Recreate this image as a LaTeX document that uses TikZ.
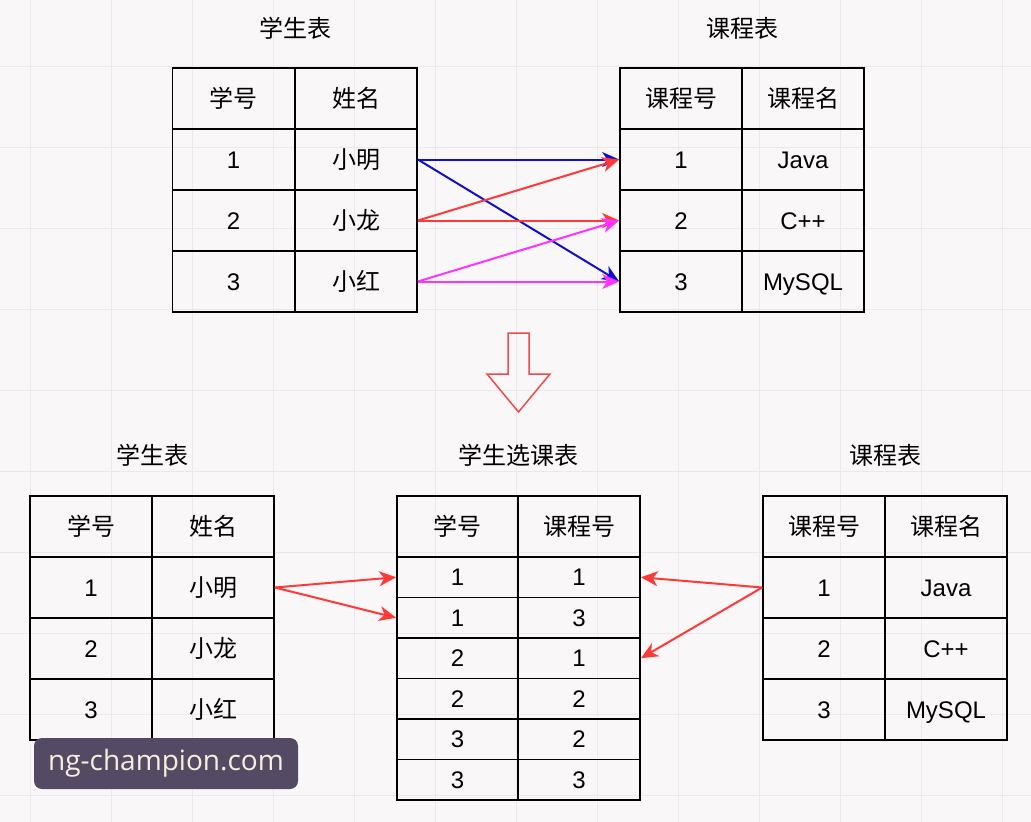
\documentclass[tikz,border=0pt]{standalone}
\usepackage{fontspec}
\setmainfont{Liberation Sans}
\newfontfamily\cjk{Noto Sans CJK SC}
\newfontfamily\wmfont{Open Sans}
\usetikzlibrary{arrows.meta}
\definecolor{bgc}{HTML}{FAF7F9}
\definecolor{gridc}{HTML}{ECE8EC}
\definecolor{bluc}{HTML}{1010CC}
\definecolor{redc}{HTML}{FF3838}
\definecolor{magc}{HTML}{FF33FF}
\definecolor{downc}{HTML}{EE4A4A}
\definecolor{wmbg}{HTML}{554A63}
\definecolor{wmtx}{HTML}{F6EFDD}
\tikzset{
  cell/.style={draw, line width=1.7pt, minimum width=122pt, minimum height=61pt, inner sep=0pt, text height=19pt, text depth=2pt, font=\fontsize{24}{28}\selectfont},
  scell/.style={cell, minimum height=40.5pt},
  ttl/.style={inner sep=0pt, font=\cjk\fontsize{24}{28}\selectfont},
  conn/.style={line width=2pt, -{Stealth[length=17pt, width=15pt, inset=5pt]}},
  bluarrow/.style={conn, draw=bluc, fill=bluc},
  redarrow/.style={conn, draw=redc, fill=redc},
  magarrow/.style={conn, draw=magc, fill=magc},
}
\begin{document}
\begin{tikzpicture}[x=1pt,y=-1pt]
\fill[bgc] (0,0) rectangle (1031,822);
\useasboundingbox (0,0) rectangle (1031,822);
\foreach \x in {30,111,...,1010} \draw[gridc, line width=0.8pt] (\x,0) -- (\x,822);
\foreach \y in {66,147,...,800} \draw[gridc, line width=0.8pt] (0,\y) -- (1031,\y);

% titles
\node[ttl] (t1) at (295,28) {学生表};
\node[ttl] (t2) at (742,28) {课程表};
\node[ttl] (t3) at (152,455) {学生表};
\node[ttl] (t4) at (518,455) {学生选课表};
\node[ttl] (t5) at (885,455) {课程表};

% top-left student table
\foreach \a/\b [count=\i from 0] in {{\cjk 学号}/{\cjk 姓名},1/{\cjk 小明},2/{\cjk 小龙},3/{\cjk 小红}} {
  \node[cell] (sa\i) at (233.5,98.5+61*\i) {\a};
  \node[cell] (sb\i) at (356,98.5+61*\i) {\b};
}
% top-right course table
\foreach \a/\b [count=\i from 0] in {{\cjk 课程号}/{\cjk 课程名},1/Java,2/C++,3/MySQL} {
  \node[cell] (ca\i) at (681,98.5+61*\i) {\a};
  \node[cell] (cb\i) at (803,98.5+61*\i) {\b};
}
% bottom-left student table
\foreach \a/\b [count=\i from 0] in {{\cjk 学号}/{\cjk 姓名},1/{\cjk 小明},2/{\cjk 小龙},3/{\cjk 小红}} {
  \node[cell] (la\i) at (91,526.5+61*\i) {\a};
  \node[cell] (lb\i) at (213,526.5+61*\i) {\b};
}
% bottom-right course table
\foreach \a/\b [count=\i from 0] in {{\cjk 课程号}/{\cjk 课程名},1/Java,2/C++,3/MySQL} {
  \node[cell] (ra\i) at (824,526.5+61*\i) {\a};
  \node[cell] (rb\i) at (946,526.5+61*\i) {\b};
}
% middle selection table
\node[cell, minimum width=121pt] (ma0) at (457.5,526.5) {\cjk 学号};
\node[cell] (mb0) at (579,526.5) {\cjk 课程号};
\foreach \a/\b [count=\i from 1] in {1/1,1/3,2/1,2/2,3/2,3/3} {
  \node[scell, minimum width=121pt] (ma\i) at (457.5,536.75+40.5*\i) {\a};
  \node[scell] (mb\i) at (579,536.75+40.5*\i) {\b};
}

% top connectors
\draw[bluarrow] (sb1.east) -- (ca1.west);
\draw[bluarrow] (sb1.east) -- (ca3.west);
\draw[redarrow] (sb2.east) -- (ca1.west);
\draw[redarrow] (sb2.east) -- (ca2.west);
\draw[magarrow] (sb3.east) -- (ca2.west);
\draw[magarrow] (sb3.east) -- (ca3.west);

% bottom connectors
\draw[redarrow] (lb1.east) -- (ma1.west);
\draw[redarrow] (lb1.east) -- (ma2.west);
\draw[redarrow] (ra1.west) -- (mb1.east);
\draw[redarrow] (ra1.west) -- (mb3.east);

% down arrow
\draw[downc, line width=1.5pt, line join=miter] (508,333) -- (529,333) -- (529,374) -- (550,374) -- (518.5,412) -- (487,374) -- (508,374) -- cycle;

% watermark
\node[fill=wmbg, rounded corners=8pt, minimum width=264pt, minimum height=51pt, inner sep=0pt, text=wmtx, font=\wmfont\fontsize{28}{30}\selectfont] (wm) at (166,763.5) {ng-champion.com};
\end{tikzpicture}
\end{document}
